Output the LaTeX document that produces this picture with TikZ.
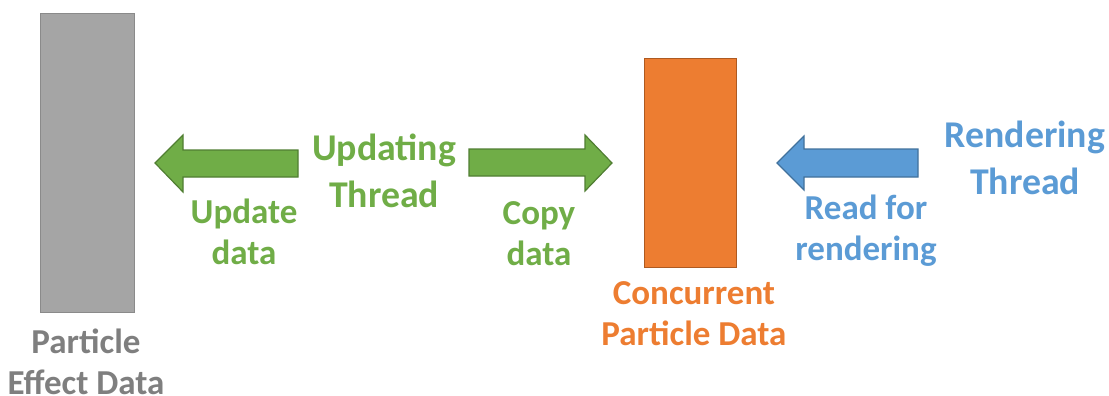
\documentclass[tikz,border=0pt]{standalone}
\usepackage{fontspec}
\setmainfont{Carlito}
\definecolor{boxgray}{HTML}{A5A5A5}
\definecolor{linegray}{HTML}{8A8A8A}
\definecolor{textgray}{HTML}{7F7F7F}
\definecolor{boxorange}{HTML}{ED7D31}
\definecolor{lineorange}{HTML}{AE5A21}
\definecolor{updgreen}{HTML}{70AD47}
\definecolor{linegreen}{HTML}{507E32}
\definecolor{rendblue}{HTML}{5B9BD5}
\definecolor{lineblue}{HTML}{41719C}
\begin{document}
\begin{tikzpicture}[
  x=0.5pt, y=-0.5pt,
  databox/.style={rectangle, anchor=north west, inner sep=0pt, line width=0.6pt},
  bigtext/.style={align=center, font=\fontsize{18.9}{23.5}\selectfont\bfseries},
  smalltext/.style={align=center, font=\fontsize{17.5}{20.5}\selectfont\bfseries},
  blockarrow/.style={line width=0.6pt, line join=miter}
]
  \useasboundingbox (0,0) rectangle (1109,396);

  % Datenbehaelter
  \node[databox, fill=boxgray, draw=linegray, minimum width=47pt, minimum height=149.5pt] (effect) at (40,13) {};
  \node[databox, fill=boxorange, draw=lineorange, minimum width=46pt, minimum height=104.5pt] (concurrent) at (644,58) {};

  % Beschriftungen der Behaelter
  \node[smalltext, text=textgray] (effectlabel) at (86,362) {Particle\\Effect Data};
  \node[smalltext, text=boxorange] (concurrentlabel) at (694,314) {Concurrent\\Particle Data};

  % Blockpfeile
  \filldraw[blockarrow, fill=updgreen, draw=linegreen] (298,150) -- (183,150) -- (183,135) -- (155,163) -- (183,192) -- (183,177) -- (298,177) -- cycle;
  \filldraw[blockarrow, fill=updgreen, draw=linegreen] (469,149) -- (585,149) -- (585,135) -- (612,163) -- (585,191) -- (585,176) -- (469,176) -- cycle;
  \filldraw[blockarrow, fill=rendblue, draw=lineblue] (918,149) -- (804,149) -- (804,136) -- (777,163) -- (804,190) -- (804,177) -- (918,177) -- cycle;

  % Threads und Operationen
  \node[bigtext, text=updgreen] (updating) at (384,171) {Updating\\Thread};
  \node[bigtext, text=rendblue] (rendering) at (1025,158) {Rendering\\Thread};
  \node[smalltext, text=updgreen] (update) at (244,232) {Update\\data};
  \node[smalltext, text=updgreen] (copy) at (539,234) {Copy\\data};
  \node[smalltext, text=rendblue] (read) at (866,231) {Read for\\rendering};

\end{tikzpicture}
\end{document}
